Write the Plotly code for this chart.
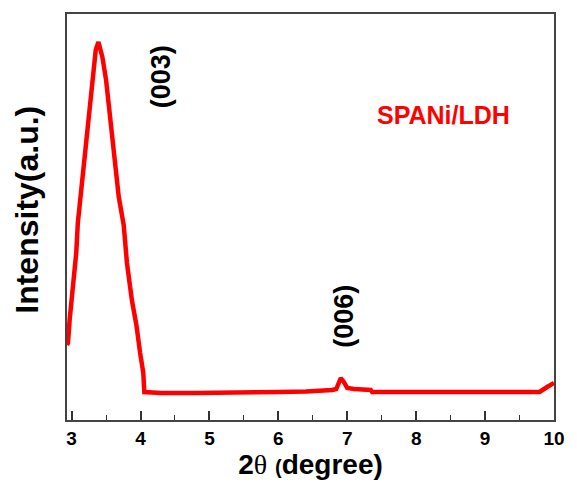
import plotly.graph_objects as go

# 2-theta (degree) and intensity (a.u.)
two_theta = [2.933, 2.947, 2.971, 3.019, 3.067, 3.09, 3.153, 3.2, 3.26, 3.304, 3.35, 3.389,
             3.41, 3.446, 3.5, 3.542, 3.613, 3.684, 3.756, 3.803, 3.874, 3.94, 3.994, 4.04, 4.055,
             4.3, 4.8, 5.3, 5.6, 6.0, 6.4, 6.7, 6.78, 6.84, 6.87, 6.906, 6.95, 7.0, 7.1, 7.2,
             7.3, 7.34, 7.36, 7.6, 7.8, 7.95, 8.0, 8.5, 9.0, 9.5, 9.79, 9.9, 10.0]
intensity = [75, 77, 100, 133, 167, 197, 240, 273, 315, 340, 370, 378,
             372, 363, 340, 313, 273, 223, 195, 157, 120, 95, 67, 47, 28,
             27, 27, 27, 28, 28, 28.5, 29, 30, 31, 36, 42, 38, 32, 31, 31,
             31, 30, 28, 28, 29, 29, 28, 28, 28, 28, 28, 33, 37]

x_ticks = [3, 4, 5, 6, 7, 8, 9, 10]
peak_labels = ["(003)", "(006)"]
peak_pos = [(4.3, 343), (6.95, 104)]
sample_label = "SPANi/LDH"

fig = go.Figure()
fig.add_trace(go.Scatter(x=two_theta, y=intensity, mode="lines",
                         line=dict(color="#ff0000", width=4.5), showlegend=False))

for txt, (px, py) in zip(peak_labels, peak_pos):
    fig.add_annotation(x=px, y=py, text=txt, showarrow=False, textangle=-90,
                       font=dict(family="Liberation Sans", size=27, color="#000000", weight="bold"))

fig.add_annotation(x=8.39, y=305, text=sample_label, showarrow=False,
                   font=dict(family="Liberation Sans", size=25, color="#ff0000", weight="bold"))

# y-axis title placed as an annotation to match the reference position
fig.add_annotation(xref="paper", yref="paper", x=(26 - 67) / 496, y=(420 - 210) / 406,
                   xanchor="center", yanchor="middle",
                   text="Intensity(a.u.)", showarrow=False, textangle=-90,
                   font=dict(family="Liberation Sans", size=32, color="#000000", weight="bold"))

fig.update_layout(
    width=577, height=489,
    margin=dict(l=67, r=14, t=14, b=69),
    plot_bgcolor="white", paper_bgcolor="white",
    font=dict(family="Liberation Sans", color="#000000"),
)
fig.update_xaxes(range=[2.933, 10.0], tickvals=x_ticks, ticks="inside", ticklen=9, tickwidth=1.5,
                 tickcolor="#333", showline=True, linecolor="#444", linewidth=1.5, mirror=True,
                 showgrid=False, zeroline=False,
                 minor=dict(ticks="inside", ticklen=5, tickwidth=1.2, tickcolor="#333", dtick=0.5, showgrid=False),
                 tickfont=dict(size=19, weight="bold"),
                 title=dict(text="2<span style='font-family:Liberation Serif;font-weight:normal'>θ</span> <span style='font-size:20px'>(</span>degree)",
                            font=dict(size=28, weight="bold"), standoff=4))
fig.update_yaxes(range=[0, 406], showticklabels=False, ticks="", showline=True, linecolor="#444",
                 linewidth=1.5, mirror=True, showgrid=False, zeroline=False)

fig.write_html("out.html")
